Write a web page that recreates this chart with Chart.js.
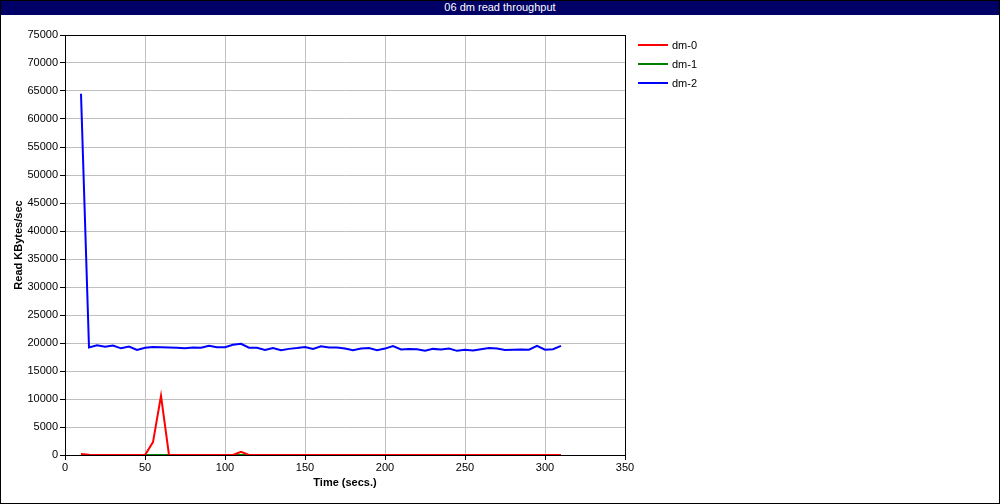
<!DOCTYPE html>
<html>
<head>
<meta charset="utf-8">
<script src="https://cdn.jsdelivr.net/npm/chart.js@4/dist/chart.umd.min.js"></script>
<style>
    html, body { margin: 0; padding: 0; background: #fff; }
    #wrap { position: relative; width: 1000px; height: 504px; }
    #chart { position: absolute; left: 0; top: 0; }
    #frame { position: absolute; left: 0; top: 0; width: 1000px; height: 504px; box-sizing: border-box; border: 1px solid #000; pointer-events: none; }
    #titlebar { position: absolute; left: 0; top: 0; width: 1000px; height: 15px; background: #000066; color: #fff;
        font: 11px "Liberation Sans", Arial, sans-serif; text-align: center; line-height: 15px; }
    #legend { position: absolute; left: 638px; top: 35px; font: 11px "Liberation Sans", Arial, sans-serif; color: #000; }
    .item { height: 19px; display: flex; align-items: center; }
    .swatch { width: 30px; height: 2px; margin-right: 4px; }
</style>
</head>
<body>
<div id="wrap">
    <canvas id="chart" width="1000" height="504"></canvas>
    <div id="titlebar">06 dm read throughput</div>
    <div id="legend"></div>
    <div id="frame"></div>
</div>
<script>
const times = [10, 15, 20, 25, 30, 35, 40, 45, 50, 55,
    60, 65, 70, 75, 80, 85, 90, 95, 100, 105,
    110, 115, 120, 125, 130, 135, 140, 145, 150, 155,
    160, 165, 170, 175, 180, 185, 190, 195, 200, 205,
    210, 215, 220, 225, 230, 235, 240, 245, 250, 255,
    260, 265, 270, 275, 280, 285, 290, 295, 300, 305,
    310];

const dm0 = [200, 50, 0, 0, 0, 0, 0, 0, 0, 2300,
    10550, 0, 0, 0, 0, 0, 0, 0, 0, 0,
    550, 0, 0, 0, 0, 0, 0, 0, 0, 0,
    0, 0, 0, 0, 0, 0, 0, 0, 0, 0,
    0, 0, 0, 0, 0, 0, 0, 0, 0, 0,
    0, 0, 0, 0, 0, 0, 0, 0, 0, 0,
    0];

const dm1 = [0, 0, 0, 0, 0, 0, 0, 0, 0, 0,
    0, 0, 0, 0, 0, 0, 0, 0, 0, 0,
    0, 0, 0, 0, 0, 0, 0, 0, 0, 0,
    0, 0, 0, 0, 0, 0, 0, 0, 0, 0,
    0, 0, 0, 0, 0, 0, 0, 0, 0, 0,
    0, 0, 0, 0, 0, 0, 0, 0, 0, 0,
    0];

const dm2 = [64500, 19200, 19600, 19350, 19550, 19050, 19350, 18750, 19150, 19300,
    19250, 19200, 19150, 19050, 19200, 19150, 19500, 19250, 19250, 19700,
    19850, 19150, 19150, 18750, 19100, 18700, 18950, 19100, 19300, 18950,
    19400, 19200, 19200, 19000, 18700, 19000, 19100, 18700, 19000, 19450,
    18850, 18950, 18900, 18600, 18950, 18850, 19000, 18600, 18800, 18650,
    18900, 19100, 19000, 18750, 18800, 18850, 18800, 19500, 18800, 18900,
    19500];

const seriesNames = ['dm-0', 'dm-1', 'dm-2'];
const seriesColors = ['#ff0000', '#008000', '#0000ff'];
const seriesValues = [dm0, dm1, dm2];

const font = { family: '"Liberation Sans", Arial, sans-serif', size: 11 };

// black box round the plot area
const plotBox = {
    id: 'plotBox',
    afterDatasetsDraw(chart) {
        const a = chart.chartArea;
        const ctx = chart.ctx;
        ctx.save();
        ctx.strokeStyle = '#000';
        ctx.lineWidth = 1;
        ctx.strokeRect(Math.round(a.left) + 0.5, Math.round(a.top) + 0.5,
            Math.round(a.right - a.left), Math.round(a.bottom - a.top));
        ctx.restore();
    }
};

new Chart(document.getElementById('chart'), {
    type: 'line',
    data: {
        datasets: seriesNames.map((name, i) => ({
            label: name,
            data: times.map((t, j) => ({ x: t, y: seriesValues[i][j] })),
            borderColor: seriesColors[i],
            backgroundColor: seriesColors[i],
            borderWidth: 2,
            pointRadius: 0,
            tension: 0,
            fill: false
        }))
    },
    options: {
        responsive: false,
        animation: false,
        layout: { padding: { left: 0, top: 35, right: 375, bottom: 0 } },
        plugins: {
            legend: { display: false },
            tooltip: { enabled: false }
        },
        scales: {
            x: {
                type: 'linear',
                min: 0,
                max: 350,
                ticks: { stepSize: 50, color: '#000', font: font, padding: 1, maxRotation: 0,
                    callback: v => String(v) },
                grid: { color: '#c0c0c0', tickColor: '#000', tickLength: 5 },
                border: { color: '#000' },
                title: { display: true, text: 'Time (secs.)', color: '#000',
                    font: { family: font.family, size: 11, weight: 'bold' }, padding: { top: 0, bottom: 14 } },
                afterFit(scale) { scale.height = 49; }
            },
            y: {
                min: 0,
                max: 75000,
                ticks: { stepSize: 5000, color: '#000', font: font, padding: 2,
                    callback: v => String(v) },
                grid: { color: '#c0c0c0', tickColor: '#000', tickLength: 5 },
                border: { color: '#000' },
                title: { display: true, text: 'Read KBytes/sec', color: '#000',
                    font: { family: font.family, size: 11, weight: 'bold' }, padding: { top: 12, bottom: 0 } },
                afterFit(scale) { scale.width = 65; }
            }
        }
    },
    plugins: [plotBox]
});

const legend = document.getElementById('legend');
seriesNames.forEach((name, i) => {
    const item = document.createElement('div');
    item.className = 'item';
    item.innerHTML = '<span class="swatch" style="background:' + seriesColors[i] + '"></span>' + name;
    legend.appendChild(item);
});
</script>
</body>
</html>
